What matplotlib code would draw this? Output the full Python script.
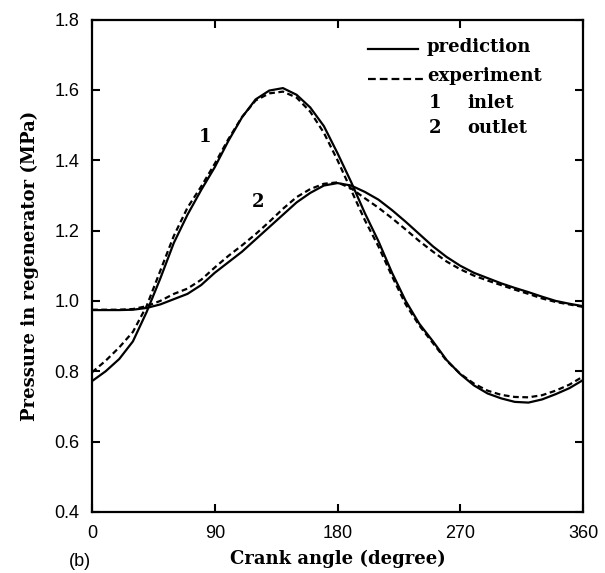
import numpy as np
import matplotlib
matplotlib.use("Agg")
import matplotlib.pyplot as plt

# ---- data ----
crank_angle = list(range(0, 361, 10))

inlet_prediction = [0.772, 0.800, 0.835, 0.885, 0.968, 1.063, 1.165, 1.245, 1.315, 1.380,
                    1.455, 1.522, 1.573, 1.598, 1.605, 1.586, 1.550, 1.497, 1.420, 1.338,
                    1.250, 1.170, 1.080, 1.000, 0.935, 0.885, 0.832, 0.792, 0.760, 0.737,
                    0.723, 0.713, 0.711, 0.720, 0.735, 0.752, 0.775]

inlet_experiment = [0.797, 0.830, 0.868, 0.912, 0.985, 1.085, 1.185, 1.265, 1.325, 1.390,
                    1.460, 1.523, 1.570, 1.590, 1.595, 1.578, 1.538, 1.478, 1.400, 1.315,
                    1.230, 1.155, 1.070, 0.990, 0.930, 0.880, 0.830, 0.793, 0.765, 0.745,
                    0.733, 0.727, 0.726, 0.732, 0.745, 0.762, 0.785]

outlet_prediction = [0.974, 0.974, 0.974, 0.975, 0.980, 0.990, 1.005, 1.020, 1.045, 1.080,
                     1.110, 1.140, 1.175, 1.210, 1.245, 1.280, 1.307, 1.328, 1.335, 1.328,
                     1.310, 1.288, 1.258, 1.225, 1.190, 1.155, 1.125, 1.100, 1.080, 1.065,
                     1.050, 1.037, 1.025, 1.012, 1.000, 0.992, 0.985]

outlet_experiment = [0.975, 0.975, 0.975, 0.977, 0.985, 1.000, 1.020, 1.035, 1.060, 1.095,
                     1.128, 1.158, 1.190, 1.225, 1.262, 1.295, 1.318, 1.333, 1.337, 1.320,
                     1.292, 1.265, 1.235, 1.203, 1.170, 1.140, 1.112, 1.090, 1.072, 1.058,
                     1.045, 1.032, 1.020, 1.007, 0.997, 0.990, 0.983]

x_ticks = [0, 90, 180, 270, 360]
y_ticks = [0.4, 0.6, 0.8, 1.0, 1.2, 1.4, 1.6, 1.8]

# ---- figure ----
W, H = 605, 573
fig = plt.figure(figsize=(W / 100, H / 100), dpi=100)
ax_l, ax_r, ax_t, ax_b = 92, 583, 19.5, 512
ax = fig.add_axes([ax_l / W, 1 - ax_b / H, (ax_r - ax_l) / W, (ax_b - ax_t) / H])

lw = 1.6
dash = (0, (2.6, 1.6))
ax.plot(crank_angle, inlet_prediction, color="black", lw=lw)
ax.plot(crank_angle, inlet_experiment, color="black", lw=lw, linestyle=dash)
ax.plot(crank_angle, outlet_prediction, color="black", lw=lw)
ax.plot(crank_angle, outlet_experiment, color="black", lw=lw, linestyle=dash)

ax.set_xlim(0, 360)
ax.set_ylim(0.4, 1.8)
ax.set_xticks(x_ticks)
ax.set_yticks(y_ticks)
ax.set_xticklabels([str(v) for v in x_ticks])
ax.set_yticklabels([f"{v:.1f}" for v in y_ticks])

for s in ax.spines.values():
    s.set_linewidth(1.6)
ax.tick_params(direction="in", length=6, width=1.5, top=True, right=True, pad=9)
for lab in ax.get_xticklabels() + ax.get_yticklabels():
    lab.set_fontfamily("Liberation Sans")
    lab.set_fontsize(13)

label_font = dict(family="DejaVu Serif", weight="bold", size=13)
ax.set_xlabel("Crank angle (degree)", labelpad=6, **label_font)
ax.set_ylabel("Pressure in regenerator (MPa)", labelpad=11, **label_font)

# curve labels
ax.text(83, 1.466, "1", ha="center", va="center", **label_font)
ax.text(122, 1.281, "2", ha="center", va="center", **label_font)

# legend (manual)
def ay(py):
    return 1 - (py - ax_t) / (ax_b - ax_t)

def axx(px):
    return (px - ax_l) / (ax_r - ax_l)

ax.plot([axx(368), axx(418)], [ay(49), ay(49)], transform=ax.transAxes, color="black", lw=lw)
ax.plot([axx(368), axx(425)], [ay(79), ay(79)], transform=ax.transAxes, color="black",
        lw=lw, linestyle=(0, (3.5, 1.8)))
leg_font = dict(family="DejaVu Serif", weight="bold", size=13, va="center", ha="left",
                transform=ax.transAxes)
ax.text(axx(427), ay(47), "prediction", **leg_font)
ax.text(axx(427), ay(76), "experiment", **leg_font)
ax.text(axx(429), ay(103), "1", **leg_font)
ax.text(axx(467), ay(103), "inlet", **leg_font)
ax.text(axx(429), ay(128), "2", **leg_font)
ax.text(axx(467), ay(128), "outlet", **leg_font)

fig.text(79.5 / W, 1 - 562 / H, "(b)", ha="center", va="center",
         family="Liberation Sans", size=13)

fig.savefig("out.png", dpi=100)
